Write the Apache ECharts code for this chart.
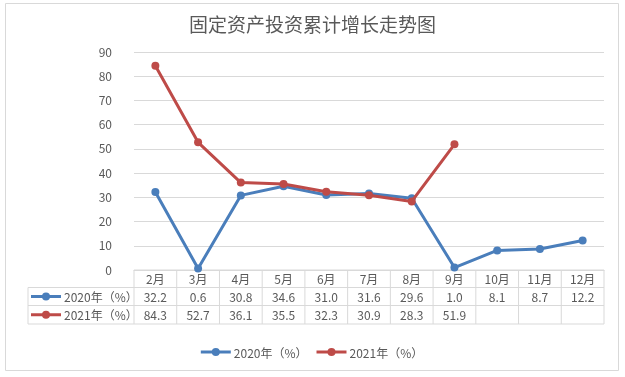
<!DOCTYPE html>
<html>
<head>
<meta charset="utf-8">
<script src="https://cdn.jsdelivr.net/npm/echarts@6/dist/echarts.min.js"></script>
<style>html,body{margin:0;padding:0;background:#fff}#c{width:625px;height:377px}</style>
</head>
<body>
<div id="c"></div>
<script>
var titleText = '固定资产投资累计增长走势图';
var categories = ['2月','3月','4月','5月','6月','7月','8月','9月','10月','11月','12月'];
var seriesNames = ['2020年（%）','2021年（%）'];
var values2020 = [32.2, 0.6, 30.8, 34.6, 31.0, 31.6, 29.6, 1.0, 8.1, 8.7, 12.2];
var values2021 = [84.3, 52.7, 36.1, 35.5, 32.3, 30.9, 28.3, 51.9, null, null, null];
var colors = ['#4a7ebb', '#be4b48'];
var yMin = 0, yMax = 90, yInterval = 10;

var FONT = '"Noto Sans CJK SC", "Microsoft YaHei", sans-serif';
var TXT = '#595959';
var LINE = '#d9d9d9';

var chart = echarts.init(document.getElementById('c'), null, {renderer: 'canvas'});
var option = {
  animation: false,
  textStyle: {fontFamily: FONT},
  title: {
    text: titleText, left: 'center', top: 10,
    textStyle: {fontSize: 19, fontWeight: 'normal', color: TXT, fontFamily: FONT}
  },
  legend: {show: false, data: seriesNames},
  grid: {left: 134, right: 21, top: 52, bottom: 107},
  xAxis: {
    type: 'category', data: categories, boundaryGap: true,
    axisLine: {show: true, lineStyle: {color: LINE}},
    axisTick: {show: false},
    axisLabel: {show: false}
  },
  yAxis: {
    type: 'value', min: yMin, max: yMax, interval: yInterval,
    axisLine: {show: false}, axisTick: {show: false},
    axisLabel: {color: TXT, fontSize: 12, margin: 22, fontFamily: FONT},
    splitLine: {lineStyle: {color: LINE}}
  },
  series: [
    {name: seriesNames[0], type: 'line', data: values2020, symbol: 'circle', symbolSize: 8,
     lineStyle: {width: 3, color: colors[0]}, itemStyle: {color: colors[0]}, z: 3},
    {name: seriesNames[1], type: 'line', data: values2021, symbol: 'circle', symbolSize: 8,
     lineStyle: {width: 3, color: colors[1]}, itemStyle: {color: colors[1]}, z: 4, connectNulls: false}
  ]
};
chart.setOption(option);

function textWidth(s) {
  var cv = document.createElement('canvas').getContext('2d');
  cv.font = '12px ' + FONT;
  return cv.measureText(s).width;
}

// Build data table and legend from the axis scale
function buildTable() {
  var c0 = chart.convertToPixel({xAxisIndex: 0}, categories[0]);
  var c1 = chart.convertToPixel({xAxisIndex: 0}, categories[1]);
  var colW = c1 - c0;
  var left = c0 - colW / 2;
  var right = left + colW * categories.length;
  var top = chart.convertToPixel({yAxisIndex: 0}, yMin);
  var rowH = [17.5, 18, 18.5];
  var y0 = top, y1 = y0 + rowH[0], y2 = y1 + rowH[1], y3 = y2 + rowH[2];
  var labelLeft = 28;
  var els = [];
  function hl(x1, x2, y) {
    els.push({type: 'line', shape: {x1: x1, y1: y, x2: x2, y2: y}, style: {stroke: LINE, lineWidth: 1}, silent: true});
  }
  function vl(x, ya, yb) {
    els.push({type: 'line', shape: {x1: x, y1: ya, x2: x, y2: yb}, style: {stroke: LINE, lineWidth: 1}, silent: true});
  }
  function txt(s, x, y, align) {
    els.push({type: 'text', x: x, y: y, style: {text: s, fill: TXT, font: '12px ' + FONT, textAlign: align || 'center', textVerticalAlign: 'middle'}, silent: true});
  }
  function icon(x, y, color) {
    els.push({type: 'line', shape: {x1: x, y1: y, x2: x + 30, y2: y}, style: {stroke: color, lineWidth: 3}, silent: true});
    els.push({type: 'circle', shape: {cx: x + 15, cy: y, r: 4}, style: {fill: color}, silent: true});
  }
  hl(left, right, y0);
  hl(labelLeft, right, y1);
  hl(labelLeft, right, y2);
  hl(labelLeft, right, y3);
  vl(labelLeft, y1, y3);
  for (var i = 0; i <= categories.length; i++) {
    vl(left + colW * i, y0, y3);
  }
  var rows = [values2020, values2021];
  for (var j = 0; j < categories.length; j++) {
    var cx = chart.convertToPixel({xAxisIndex: 0}, categories[j]);
    txt(categories[j], cx, (y0 + y1) / 2 + 1);
    for (var r = 0; r < rows.length; r++) {
      var v = rows[r][j];
      if (v !== null && v !== undefined) {
        txt(v.toFixed(1), cx, (r === 0 ? (y1 + y2) / 2 : (y2 + y3) / 2) + 1);
      }
    }
  }
  for (var r2 = 0; r2 < rows.length; r2++) {
    var cy = r2 === 0 ? (y1 + y2) / 2 : (y2 + y3) / 2;
    var lx = labelLeft + 3;
    icon(lx, cy, colors[r2]);
    txt(seriesNames[r2], lx + 33, cy + 1, 'left');
  }
  // legend
  var ly = 352;
  var w0 = textWidth(seriesNames[0]), w1 = textWidth(seriesNames[1]);
  var total = 30 + 3 + w0 + 9 + 30 + 3 + w1;
  var lx0 = 312 - total / 2;
  icon(lx0, ly, colors[0]);
  txt(seriesNames[0], lx0 + 33, ly + 1, 'left');
  var lx1 = lx0 + 33 + w0 + 9;
  icon(lx1, ly, colors[1]);
  txt(seriesNames[1], lx1 + 33, ly + 1, 'left');
  // outer frame
  els.push({type: 'rect', shape: {x: 5.5, y: 3.5, width: 613, height: 367}, style: {fill: null, stroke: LINE, lineWidth: 1}, silent: true});
  chart.setOption({graphic: {elements: els}});
}
buildTable();
</script>
</body>
</html>
